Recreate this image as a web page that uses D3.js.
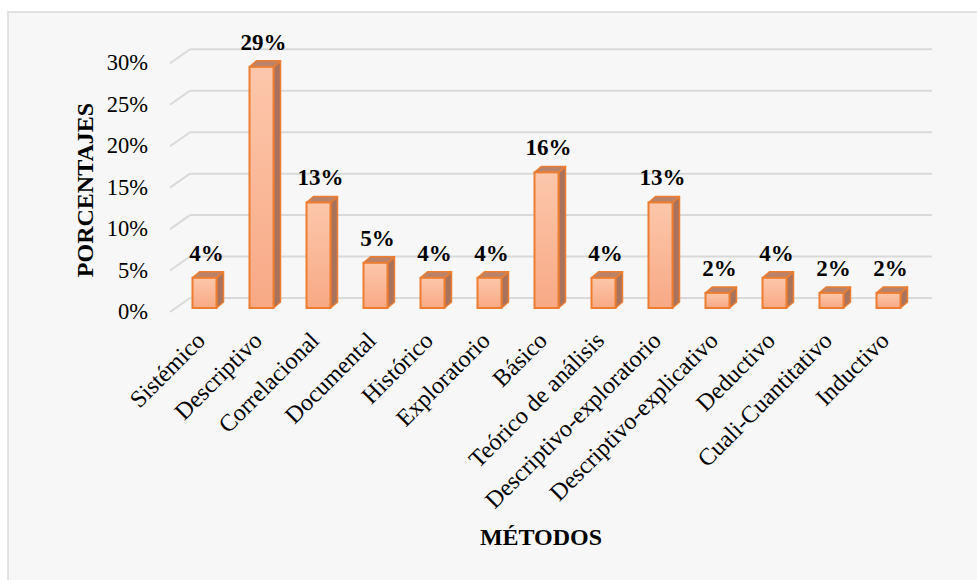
<!DOCTYPE html>
<html><head><meta charset="utf-8">
<script src="https://cdn.jsdelivr.net/npm/d3@7/dist/d3.min.js"></script>
<style>body{margin:0;background:#fff}svg{display:block}</style>
</head><body>
<svg id="c" width="977" height="580"></svg>
<script>
const categories = ["Sistémico","Descriptivo","Correlacional","Documental","Histórico","Exploratorio","Básico","Teórico de análisis","Descriptivo-exploratorio","Descriptivo-explicativo","Deductivo","Cuali-Cuantitativo","Inductivo"];
const values = [3.64,29.09,12.73,5.45,3.64,3.64,16.36,3.64,12.73,1.82,3.64,1.82,1.82];
const labels = ["4%","29%","13%","5%","4%","4%","16%","4%","13%","2%","4%","2%","2%"];
const yTicks = [0,5,10,15,20,25,30];

const svg = d3.select("#c");
const font = "'Times New Roman','Liberation Serif','DejaVu Serif',serif";

// frame
svg.append("rect").attr("x",8).attr("y",12).attr("width",980).attr("height",580)
  .attr("fill","#f7f7f7").attr("stroke","#d9d9d9").attr("stroke-width",1.5);

const defs = svg.append("defs");
const g = defs.append("linearGradient").attr("id","bg").attr("x1",0).attr("y1",0).attr("x2",0).attr("y2",1);
g.append("stop").attr("offset","0%").attr("stop-color","#fcc7ab");
g.append("stop").attr("offset","100%").attr("stop-color","#f8a985");

const floorFront = 312, depthX = 20, depthY = 14;
const pxPer = 8.29;
const yFront = d3.scaleLinear().domain([0,30]).range([floorFront, floorFront - 30*pxPer]);
const x = d3.scaleBand().domain(categories).range([176, 917]).paddingInner(0).paddingOuter(0);

// gridlines: back wall + side diagonals
const grid = svg.append("g");
yTicks.forEach(t => {
  const yf = yFront(t), yb = yf - depthY;
  grid.append("line").attr("x1",170).attr("y1",yf).attr("x2",170+depthX).attr("y2",yb)
    .attr("stroke","#d9d9d9").attr("stroke-width",2);
  grid.append("line").attr("x1",170+depthX).attr("y1",yb).attr("x2",932).attr("y2",yb)
    .attr("stroke","#d9d9d9").attr("stroke-width",2);
});

// y axis labels
svg.append("g").selectAll("text").data(yTicks).join("text")
  .attr("x",148).attr("y",d=>yFront(d)+2)
  .attr("text-anchor","end").attr("dominant-baseline","middle")
  .attr("font-family",font).attr("font-size",22.5).attr("fill","#000")
  .text(d=>d+"%");

// bars
const baseY = 308, bw = 24, dx = 7, dy = 6;
const yBar = d3.scaleLinear().domain([0,30]).range([baseY, baseY - 30*pxPer]);
const bars = svg.append("g");
categories.forEach((c,i) => {
  const cx = x(c) + x.bandwidth()/2;
  const x0 = cx - bw/2, x1 = cx + bw/2;
  const yt = yBar(values[i]);
  bars.append("path").attr("d",`M${x1},${baseY} L${x1+dx},${baseY-dy} L${x1+dx},${yt-dy} L${x1},${yt} Z`)
    .attr("fill","#a8725c").attr("stroke","#ed7d31").attr("stroke-width",1.5).attr("stroke-linejoin","round");
  bars.append("path").attr("d",`M${x0},${yt} L${x0+dx},${yt-dy} L${x1+dx},${yt-dy} L${x1},${yt} Z`)
    .attr("fill","#b9836b").attr("stroke","#ed7d31").attr("stroke-width",1.5).attr("stroke-linejoin","round");
  bars.append("rect").attr("x",x0).attr("y",yt).attr("width",bw).attr("height",baseY-yt)
    .attr("fill","url(#bg)").attr("stroke","#ed7d31").attr("stroke-width",2);
  bars.append("text").attr("x",cx+2).attr("y",yt-dy-11)
    .attr("text-anchor","middle").attr("font-family",font).attr("font-weight","bold")
    .attr("font-size",23).attr("fill","#000").text(labels[i]);
});

// category labels
svg.append("g").selectAll("text").data(categories).join("text")
  .attr("transform",d=>`translate(${x(d)+x.bandwidth()/2+2},342) rotate(-45)`)
  .attr("text-anchor","end").attr("font-family",font).attr("font-size",24).attr("fill","#000")
  .text(d=>d);

// axis titles
svg.append("text").attr("transform","translate(93,190) rotate(-90)")
  .attr("text-anchor","middle").attr("font-family",font).attr("font-weight","bold")
  .attr("font-size",24).text("PORCENTAJES");
svg.append("text").attr("x",541).attr("y",545)
  .attr("text-anchor","middle").attr("font-family",font).attr("font-weight","bold")
  .attr("font-size",24).text("MÉTODOS");
</script>
</body></html>
